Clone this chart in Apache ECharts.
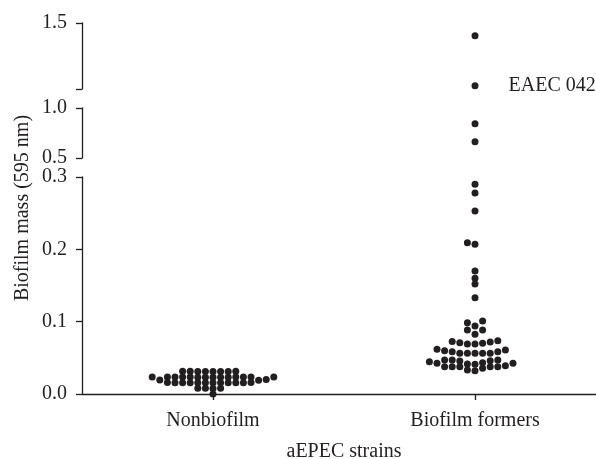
<!DOCTYPE html>
<html><head><meta charset="utf-8">
<script src="https://cdn.jsdelivr.net/npm/echarts@6/dist/echarts.min.js"></script>
<style>html,body{margin:0;padding:0;background:#fff}#c{width:596px;height:459px}</style>
</head><body><div id="c"></div>
<script>
// ---- data ----
const categories = ['Nonbiofilm', 'Biofilm formers'];
const nonbiofilm = [
  0.0000,
  0.0078, 0.0077, 0.0079, 0.0078,
  0.0155, 0.0156, 0.0157, 0.0154, 0.0156, 0.0158, 0.0155, 0.0157, 0.0156, 0.0154, 0.0158, 0.0156,
  0.0234, 0.0233, 0.0235, 0.0232, 0.0234, 0.0236, 0.0233, 0.0235, 0.0234, 0.0232, 0.0236, 0.0234, 0.0233, 0.0235,
  0.0312, 0.0313, 0.0311, 0.0314, 0.0312, 0.0310, 0.0313, 0.0312,
  0.0192, 0.0190, 0.0200
];
const biofilmFormers = [
  1.404, 1.025, 0.843, 0.663, 0.290, 0.278, 0.253, 0.209, 0.207, 0.170, 0.160, 0.152, 0.133,
  0.0986, 0.1010, 0.0940, 0.0885, 0.0885, 0.0825,
  0.0725, 0.0710, 0.0692, 0.0692, 0.0701, 0.0719, 0.0737,
  0.0608, 0.0585, 0.0562, 0.0562, 0.0562, 0.0562, 0.0562, 0.0585, 0.0599, 0.0618,
  0.0415, 0.0470, 0.0456, 0.0447, 0.0433, 0.0424, 0.0424, 0.0461, 0.0470, 0.0470, 0.0410,
  0.0392, 0.0378, 0.0378, 0.0355, 0.0322, 0.0332, 0.0378, 0.0378, 0.0378
];
const annotations = [{ category: 1, value: 1.025, text: 'EAEC 042' }];
// broken y axis: segments from top to bottom
const segmentRanges = [[1.0, 1.5], [0.5, 1.0], [0.0, 0.3]];
const segmentIntervals = [0.5, 0.5, 0.1];
const yTickLabels = [['1.5'], ['0.5', '1.0'], ['0.0', '0.1', '0.2', '0.3']];
const xAxisTitle = 'aEPEC strains';
const yAxisTitle = 'Biofilm mass (595 nm)';

// ---- style / layout ----
const INK = '#231f20';
const FONT = '"Liberation Serif", "Times New Roman", serif';
const FS = 20;
const gridTops = [23, 108, 177];
const gridHeights = [66, 50, 217];
const COL_STEP = 7.6;   // px between swarm columns
const MIN_GAP = 5.2;    // px min vertical distance in a column

const chart = echarts.init(document.getElementById('c'));

function segOf(v) {
  if (v > segmentRanges[0][0]) return 0;
  if (v > segmentRanges[2][1]) return 1;
  return 2;
}

const grids = gridTops.map((t, i) => ({
  left: 82, right: -10, top: t, height: gridHeights[i], outerBoundsMode: 'none', containLabel: false
}));

const hiddenX = [0, 1, 2].map(i => ({
  type: 'value', gridIndex: i, min: -0.5, max: 1.5, show: false, position: 'top'
}));
const catX = {
  type: 'category', gridIndex: 2, data: categories, boundaryGap: true, position: 'bottom',
  axisLine: { show: true, onZero: false, lineStyle: { color: INK, width: 1.3 } },
  axisTick: { show: true, alignWithLabel: true, length: 6, lineStyle: { color: INK, width: 1.3 } },
  axisLabel: { color: INK, fontFamily: FONT, fontSize: FS, margin: 17 },
  splitLine: { show: false },
  name: xAxisTitle, nameLocation: 'middle', nameGap: 48,
  nameTextStyle: { color: INK, fontFamily: FONT, fontSize: FS }
};

const yAxes = segmentRanges.map((r, i) => ({
  type: 'value', gridIndex: i, min: r[0], max: r[1], interval: segmentIntervals[i], position: 'left',
  axisLine: { show: true, onZero: false, lineStyle: { color: INK, width: 1.3 } },
  axisTick: { show: true, length: 6, lineStyle: { color: INK, width: 1.3 } },
  splitLine: { show: false },
  axisLabel: {
    color: INK, fontFamily: FONT, fontSize: FS, margin: 15,
    showMinLabel: true, showMaxLabel: true,
    formatter: v => { const s = v.toFixed(1); return yTickLabels[i].includes(s) ? s : ''; }
  }
}));

const groups = [nonbiofilm, biofilmFormers];

function buildSeries(offsets) {
  const series = [];
  groups.forEach((vals, g) => {
    for (let s = 0; s < 3; s++) {
      const data = [];
      vals.forEach((v, idx) => {
        if (segOf(v) !== s) return;
        const x = g + (offsets ? offsets[g][idx] : 0);
        const ann = annotations.find(a => a.category === g && a.value === v);
        const item = { value: [x, v] };
        if (ann) {
          item.label = {
            show: true, position: 'right', distance: 30, formatter: ann.text,
            color: INK, fontFamily: FONT, fontSize: FS, opacity: 1
          };
        }
        data.push(item);
      });
      series.push({
        type: 'scatter', xAxisIndex: s, yAxisIndex: s, symbol: 'circle', symbolSize: 7,
        clip: false, itemStyle: { color: INK, opacity: 1 }, data, silent: true
      });
    }
  });
  return series;
}

const option = {
  animation: false,
  backgroundColor: '#fff',
  grid: grids,
  xAxis: hiddenX.concat([catX]),
  yAxis: yAxes,
  graphic: [{
    type: 'text', x: 23, y: 208, rotation: Math.PI / 2,
    style: { text: yAxisTitle, fill: INK, font: FS + 'px ' + FONT, align: 'center', verticalAlign: 'middle' }
  }],
  series: buildSeries(null)
};
chart.setOption(option);

// beeswarm layout via the library's scales
const pxPerUnit = chart.convertToPixel({ xAxisIndex: 2 }, 1) - chart.convertToPixel({ xAxisIndex: 2 }, 0);
const order = [0];
for (let k = 1; k < 30; k++) { order.push(-k); order.push(k); }
const offsets = groups.map(vals => {
  const items = vals.map((v, idx) => ({ v, idx, y: chart.convertToPixel({ yAxisIndex: segOf(v) }, v) }));
  items.sort((a, b) => b.y - a.y); // bottom first
  const cols = {};
  const off = new Array(vals.length).fill(0);
  items.forEach(it => {
    for (const k of order) {
      const list = cols[k] || [];
      if (list.every(yy => Math.abs(yy - it.y) >= MIN_GAP)) {
        list.push(it.y); cols[k] = list;
        off[it.idx] = k * COL_STEP / pxPerUnit;
        break;
      }
    }
  });
  return off;
});
chart.setOption({ series: buildSeries(offsets) });
</script></body></html>
